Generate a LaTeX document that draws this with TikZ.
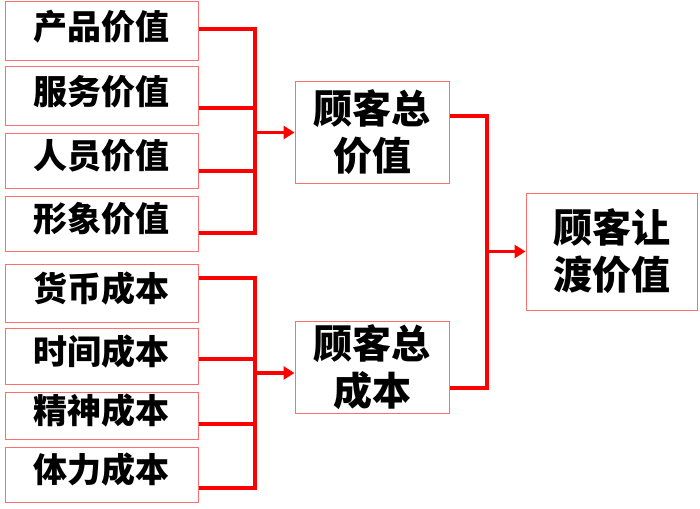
\documentclass[tikz,border=0pt]{standalone}
\usepackage{fontspec}
\setmainfont{Noto Sans CJK SC}
\usetikzlibrary{arrows.meta}
\definecolor{boxred}{RGB}{255,110,110}
\begin{document}
\begin{tikzpicture}[x=1pt,y=-1pt,
        item/.style={draw=boxred, line width=1pt, minimum width=193pt, text height=25pt, text depth=9pt, font=\fontsize{34}{40}\selectfont\bfseries},
        total/.style={draw=boxred, line width=1pt, align=center, font=\fontsize{39}{47}\selectfont\bfseries},
        link/.style={red, line width=3.5pt, line join=miter},
        arr/.style={link, -{Triangle[length=11pt,width=13pt]}}]
        \useasboundingbox (0,0) rectangle (700,508);
        % value side
        \node [item, minimum height=59pt] (pv) at (101.5,31.5) {产品价值};
        \node [item, minimum height=58pt] (sv) at (101.5,96) {服务价值};
        \node [item, minimum height=55pt] (hv) at (101.5,160.5) {人员价值};
        \node [item, minimum height=55pt] (iv) at (101.5,223.5) {形象价值};
        % cost side
        \node [item, minimum height=58pt] (mc) at (101.5,293) {货币成本};
        \node [item, minimum height=56pt] (tc) at (101.5,356) {时间成本};
        \node [item, minimum height=47pt] (ec) at (101.5,415.5) {精神成本};
        \node [item, minimum height=55pt] (bc) at (101.5,474.5) {体力成本};
        % totals
        \node [total, minimum width=154pt, minimum height=101pt] (tv) at (372,132.5) {顾客总\\价值};
        \node [total, minimum width=154pt, minimum height=92pt] (tcost) at (372,367) {顾客总\\成本};
        \node [total, minimum width=171pt, minimum height=117pt] (dv) at (611.5,251.5) {顾客让\\渡价值};
        % bus points
        \coordinate (v1) at (255,29);
        \coordinate (v2) at (255,108);
        \coordinate (v3) at (255,171);
        \coordinate (v4) at (255,233);
        \coordinate (c1) at (255,278);
        \coordinate (c2) at (255,359);
        \coordinate (c3) at (255,424);
        \coordinate (c4) at (255,488);
        \coordinate (cm) at (255,373);
        \coordinate (d1) at (487,116);
        \coordinate (d2) at (487,388);
        % value links
        \draw [link] (pv.east |- v1) -- (v1) -- (v4) -- (iv.east |- v4);
        \draw [link] (sv.east |- v2) -- (v2);
        \draw [link] (hv.east |- v3) -- (v3);
        \draw [arr] (v1 |- tv.west) -- (tv.west);
        % cost links
        \draw [link] (mc.east |- c1) -- (c1) -- (c4) -- (bc.east |- c4);
        \draw [link] (tc.east |- c2) -- (c2);
        \draw [link] (ec.east |- c3) -- (c3);
        \draw [arr] (cm) -- (tcost.west |- cm);
        % totals to result
        \draw [link] (tv.east |- d1) -- (d1) -- (d2) -- (tcost.east |- d2);
        \draw [arr] (d1 |- dv.west) -- (dv.west);
\end{tikzpicture}
\end{document}
